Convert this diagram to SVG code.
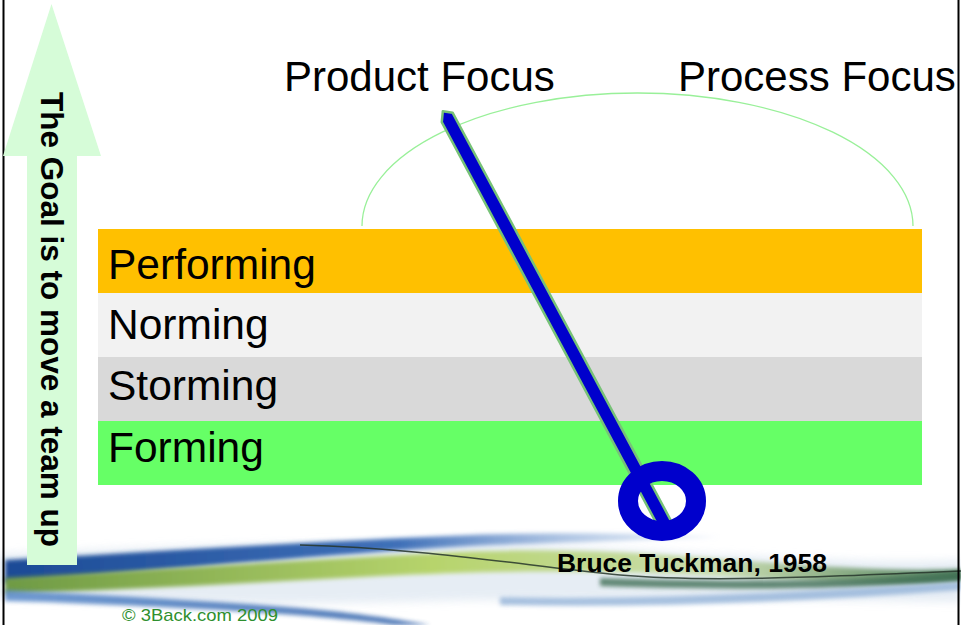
<svg xmlns="http://www.w3.org/2000/svg" width="961" height="625" viewBox="0 0 961 625">
<style>
.lbl{font-family:"Liberation Sans",Arial,sans-serif;font-size:42.5px;fill:#000}
.hdr{font-family:"Liberation Sans",Arial,sans-serif;font-size:42px;fill:#000}
.bold{font-family:"Liberation Sans",Arial,sans-serif;font-weight:bold;fill:#000}
</style>
<defs>
<filter id="soft" x="-5%" y="-50%" width="110%" height="200%"><feGaussianBlur stdDeviation="2"/></filter>
<filter id="soft4" x="-5%" y="-50%" width="110%" height="200%"><feGaussianBlur stdDeviation="4"/></filter>
<linearGradient id="gBlue" x1="0" y1="0" x2="1" y2="0">
<stop offset="0" stop-color="#1C4A96"/><stop offset="0.55" stop-color="#3F70B8"/><stop offset="1" stop-color="#A9C4E6" stop-opacity="0.2"/>
</linearGradient>
<linearGradient id="gGreen" x1="0" y1="0" x2="1" y2="0">
<stop offset="0" stop-color="#6E9A44"/><stop offset="0.45" stop-color="#B7D46C"/><stop offset="0.75" stop-color="#C9DDB0"/><stop offset="1" stop-color="#4F7E5C"/>
</linearGradient>
<linearGradient id="gLow" x1="0" y1="0" x2="1" y2="0">
<stop offset="0" stop-color="#5B8BCB"/><stop offset="1" stop-color="#2E5FA8"/>
</linearGradient>
</defs>
<rect x="0" y="0" width="961" height="625" fill="#FFFFFF"/>

<g id="swoosh">
<path d="M0,554 C200,544 400,538 600,548 C750,556 870,564 961,560 L961,602 C800,600 600,597 400,602 C250,606 100,602 0,598 Z" fill="#E2EAF3" opacity="0.85" filter="url(#soft4)"/>
<path d="M5,560 C120,554 300,542 470,535 C550,532 650,533 720,537 C640,541 540,543 470,546 C320,554 150,572 5,583 Z" fill="url(#gBlue)" filter="url(#soft)"/>
<path d="M5,578 C150,570 300,560 460,552 C560,548 650,553 720,559 C820,567 900,572 961,569 L961,581 C900,586 820,582 720,576 C600,569 480,571 380,576 C250,583 120,590 5,594 Z" fill="url(#gGreen)" filter="url(#soft)"/>
<path d="M600,578 C750,583 880,580 961,572 L961,580 C880,589 760,591 600,586 Z" fill="#3F6E55" opacity="0.8" filter="url(#soft)"/>
<path d="M5,590 C100,595 200,600 300,608 C360,613 400,620 430,625 L395,625 C350,619 280,613 200,609 C120,605 60,602 5,601 Z" fill="url(#gLow)" opacity="0.85" filter="url(#soft)"/>
<path d="M500,597 C650,600 800,592 961,582 L961,590 C800,602 650,608 500,605 Z" fill="#93B2D8" opacity="0.8" filter="url(#soft)"/>
<path d="M300,545 C420,548 520,565 620,575 C700,582 800,578 961,571" fill="none" stroke="#26352A" stroke-width="1.5" opacity="0.85"/>
</g>

<g id="borders">
<line x1="3.5" y1="0" x2="3.5" y2="625" stroke="#000" stroke-width="2"/>
<line x1="958.5" y1="0" x2="958.5" y2="625" stroke="#000" stroke-width="2"/>
</g>

<g id="goal-arrow">
<polygon points="51.5,4 101,156 77,156 77,565 27,565 27,156 3,156" fill="#D6FCD8"/>
<text class="bold" font-size="31.5" textLength="455" lengthAdjust="spacingAndGlyphs" transform="translate(41,92) rotate(90)">The Goal is to move a team up</text>
</g>

<g id="arc">
<path d="M362,226 A275.5,133 0 0 1 913,226" fill="none" stroke="#99F099" stroke-width="1.3"/>
</g>

<g id="headers">
<text class="hdr" x="284" y="91">Product Focus</text>
<text class="hdr" x="678" y="91">Process Focus</text>
</g>

<g id="performing"><rect x="98" y="229" width="824" height="64" fill="#FFC000"/><text class="lbl" x="108" y="279">Performing</text></g>
<g id="norming"><rect x="98" y="293" width="824" height="64" fill="#F2F2F2"/><text class="lbl" x="108" y="339">Norming</text></g>
<g id="storming"><rect x="98" y="357" width="824" height="64" fill="#D9D9D9"/><text class="lbl" x="108" y="400">Storming</text></g>
<g id="forming"><rect x="98" y="421" width="824" height="64" fill="#66FF66"/><text class="lbl" x="108" y="462">Forming</text></g>

<g id="needle">
<g transform="translate(447,117) rotate(61.85)">
<polygon points="-1,-7 462,-7 462,7 2,7 -7,1" fill="#0000CC" stroke="#77C277" stroke-width="2.5" stroke-linejoin="round"/>
</g>
<ellipse cx="662" cy="501" rx="34" ry="30" fill="none" stroke="#0000CC" stroke-width="20"/>
</g>

<g id="credits">
<text class="bold" font-size="25.5" x="557" y="572" textLength="270" lengthAdjust="spacingAndGlyphs">Bruce Tuckman, 1958</text>
<text font-family="'Liberation Sans',Arial,sans-serif" font-size="17" x="122" y="621" fill="#2E8F2E" textLength="156" lengthAdjust="spacingAndGlyphs">© 3Back.com 2009</text>
</g>
</svg>
